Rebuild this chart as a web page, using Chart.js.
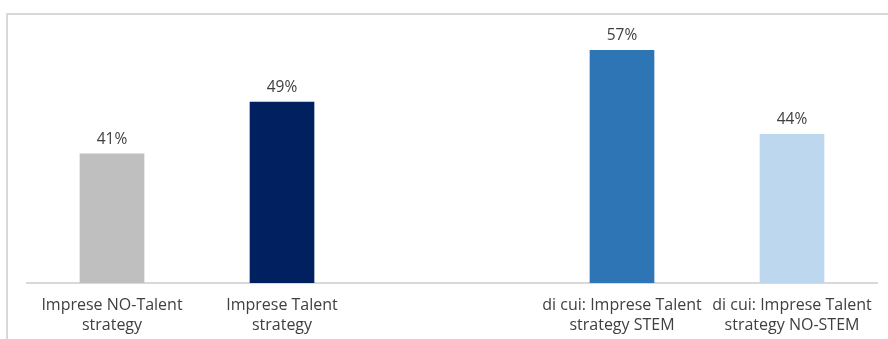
<!DOCTYPE html>
<html>
<head>
<meta charset="utf-8">
<script src="https://cdn.jsdelivr.net/npm/chart.js@4"></script>
<style>
  html, body { margin: 0; padding: 0; background: #fff; }
  #wrap { position: relative; width: 888px; height: 339px; overflow: hidden; }
  #frame {
    position: absolute; left: 6px; top: 13px; width: 900px; height: 400px;
    border-top: 2px solid #d9d9d9; border-left: 2px solid #d9d9d9;
  }
  #chart { position: absolute; left: 0; top: 0; }
</style>
</head>
<body>
<div id="wrap">
  <div id="frame"></div>
  <canvas id="chart" width="888" height="349"></canvas>
</div>
<script>
// categories (the empty slot keeps the gap between the two groups)
const categories = [
    ['Imprese NO-Talent', 'strategy'],
    ['Imprese Talent', 'strategy'],
    '',
    ['di cui: Imprese Talent', 'strategy STEM'],
    ['di cui: Imprese Talent', 'strategy NO-STEM'],
];
const shares = [41, 49, null, 57, 44];
const barColors = ['#bfbfbf', '#002060', '#ffffff', '#2e75b6', '#bdd7ee'];

const textColor = '#404040';
const fontFamily = '"Open Sans", "Noto Sans", sans-serif';

// value labels above each bar
const valueLabels = {
    id: 'valueLabels',
    afterDatasetsDraw(chart) {
        const ctx = chart.ctx;
        const meta = chart.getDatasetMeta(0);
        ctx.save();
        ctx.font = '15.5px ' + fontFamily;
        ctx.fillStyle = textColor;
        ctx.textAlign = 'center';
        ctx.textBaseline = 'alphabetic';
        meta.data.forEach((bar, i) => {
            const v = shares[i];
            if (v == null) return;
            ctx.fillText(v + '%', bar.x, bar.y - 10);
        });
        ctx.restore();
    }
};

function renderBarChart() {
    const ctx = document.getElementById('chart').getContext('2d');
    new Chart(ctx, {
        type: 'bar',
        data: {
            labels: categories,
            datasets: [
                {
                    data: shares,
                    backgroundColor: barColors,
                    borderWidth: 0,
                    barThickness: 64,
                },
            ],
        },
        options: {
            responsive: false,
            animation: false,
            layout: { padding: { left: 27, right: 11, top: 31, bottom: 2 } },
            plugins: {
                legend: { display: false },
                tooltip: { enabled: false },
            },
            scales: {
                x: {
                    grid: { display: false, drawTicks: false },
                    border: { display: true, color: '#d9d9d9', width: 2 },
                    ticks: {
                        color: textColor,
                        font: { family: fontFamily, size: 16, lineHeight: 1.25 },
                        padding: 12,
                        maxRotation: 0,
                        autoSkip: false,
                    },
                },
                y: {
                    display: false,
                    min: 21,
                    max: 60,
                },
            },
        },
        plugins: [valueLabels],
    });
}

renderBarChart();
</script>
</body>
</html>
